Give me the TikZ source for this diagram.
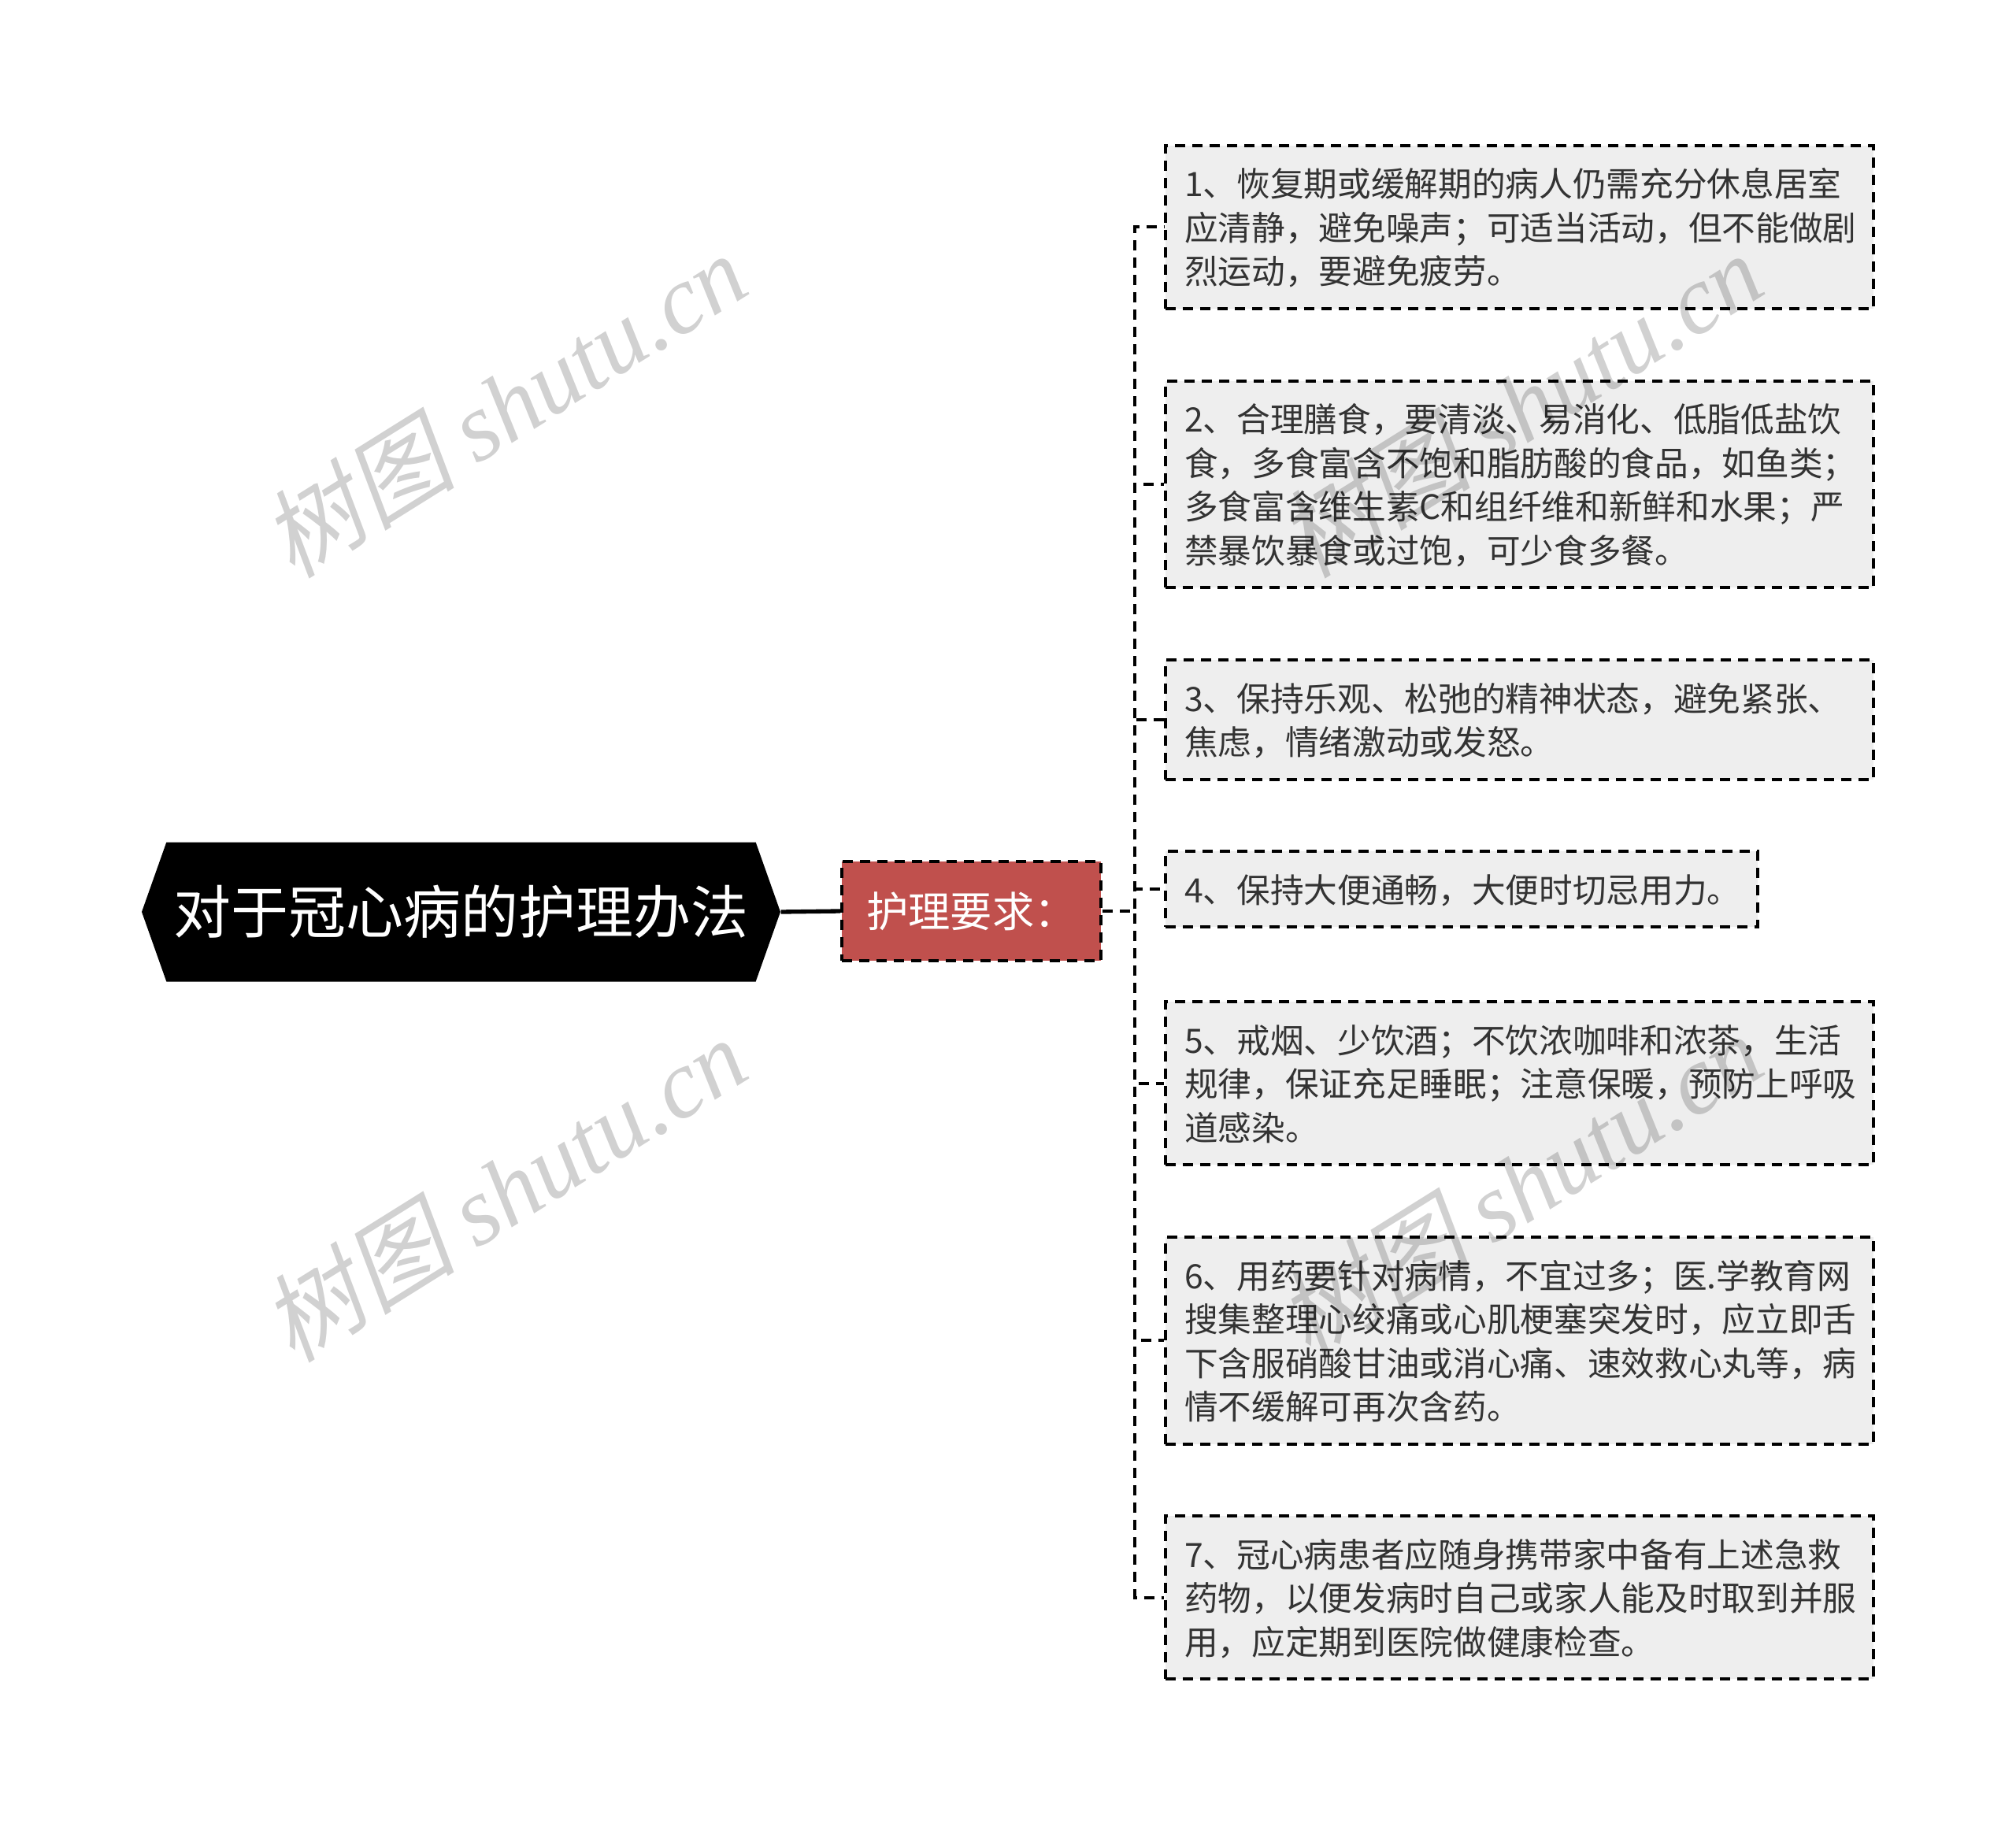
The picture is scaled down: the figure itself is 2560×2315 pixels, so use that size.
\documentclass[tikz,border=0pt]{standalone}
\usepackage{fontspec}
\setmainfont{Noto Sans CJK SC}
\newfontfamily\wmlatin{Liberation Serif Italic}
\newfontfamily\wmcjk{Noto Sans CJK SC}[FakeSlant=0.2]
\usetikzlibrary{shapes.symbols}
\definecolor{reqred}{RGB}{192,80,77}
\definecolor{boxgray}{RGB}{238,238,238}
\definecolor{txtgray}{RGB}{51,51,51}

\begin{document}
\begin{tikzpicture}[x=0.3pt,y=-0.3pt,
  dashline/.style={line width=1.2pt,dash pattern=on 3.9pt off 2.7pt},
  topic/.style={signal,signal to=east and west,signal pointer angle=141,fill=black,text=white,
    font=\fontsize{21.9}{26}\selectfont,minimum width=243.3pt,minimum height=53.1pt,inner sep=0pt},
  tip/.style={fill=reqred,draw=black,dashline,text=white,font=\fontsize{16}{19}\selectfont,
    minimum width=98.7pt,minimum height=37.8pt,inner sep=0pt},
  item/.style={fill=boxgray,draw=black,dashline,text=txtgray,anchor=north west,align=left,
    text width=255.3pt,inner xsep=7.2pt,inner ysep=0pt,font=\fontsize{12.8}{16.65}\selectfont,
    execute at begin node={\rule{0pt}{19.5pt}},execute at end node={\rule[-9.3pt]{0pt}{9.3pt}}},
  wmark/.style={rotate=32,text=black,opacity=0.18,font=\fontsize{37}{40}\selectfont}]
\useasboundingbox (0,0) rectangle (2560,2315);

\node[topic] (root) at (585.5,1158) {对于冠心病的护理办法};
\node[tip] (req) at (1233.5,1157) {护理要求：};

\node[item] (b1) at (1478,183) {1、恢复期或缓解期的病人仍需充分休息居室\\
应清静，避免噪声；可适当活动，但不能做剧\\
烈运动，要避免疲劳。};
\node[item] (b2) at (1478,482) {2、合理膳食，要清淡、易消化、低脂低盐饮\\
食，多食富含不饱和脂肪酸的食品，如鱼类；\\
多食富含维生素C和组纤维和新鲜和水果；严\\
禁暴饮暴食或过饱，可少食多餐。};
\node[item] (b3) at (1478,836) {3、保持乐观、松弛的精神状态，避免紧张、\\
焦虑，情绪激动或发怒。};
\node[item,text width=211.2pt] (b4) at (1478,1079) {4、保持大便通畅，大便时切忌用力。};
\node[item] (b5) at (1478,1270) {5、戒烟、少饮酒；不饮浓咖啡和浓茶，生活\\
规律，保证充足睡眠；注意保暖，预防上呼吸\\
道感染。};
\node[item] (b6) at (1478,1569) {6、用药要针对病情，不宜过多；医.学教育网\\
搜集整理心绞痛或心肌梗塞突发时，应立即舌\\
下含服硝酸甘油或消心痛、速效救心丸等，病\\
情不缓解可再次含药。};
\node[item] (b7) at (1478,1923) {7、冠心病患者应随身携带家中备有上述急救\\
药物，以便发病时自己或家人能及时取到并服\\
用，应定期到医院做健康检查。};

\draw[line width=1.6pt] (root.east) -- (req.west);
\foreach \i in {1,...,7}
  \draw[dashline] (req.east) -- ++(41,0) |- (b\i.west);

\foreach \x/\y/\n in {640/514/wa,640/1510/wb,1930/514/wc,1930/1505/wd}
  \node[wmark] (\n) at (\x,\y) {{\wmcjk 树图} {\wmlatin shutu.cn}};
\end{tikzpicture}
\end{document}
